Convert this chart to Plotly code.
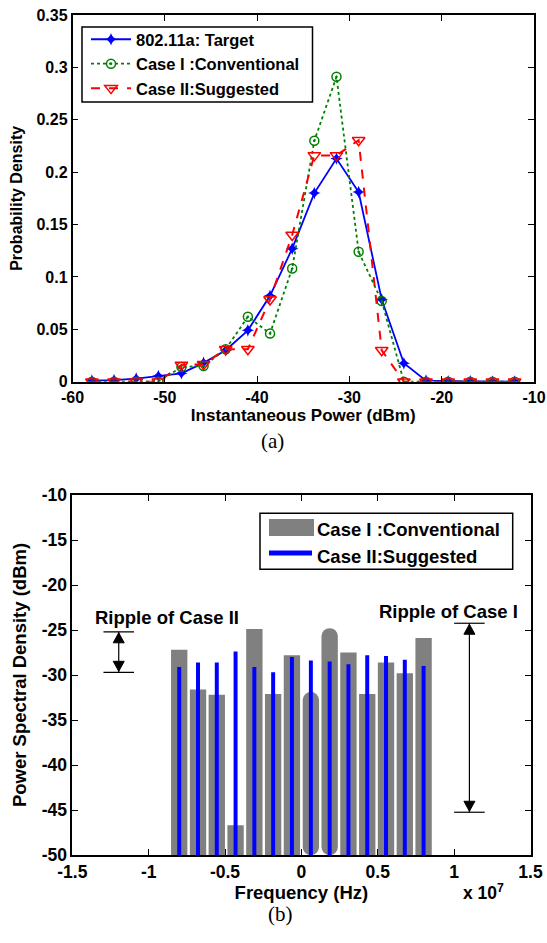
import plotly.graph_objects as go

W, H = 547, 943

# ---------------- data: panel (a) ----------------
power_dbm = [-57.9, -55.5, -53.1, -50.7, -48.2, -45.8, -43.4, -41.0, -38.6, -36.2,
             -33.8, -31.4, -29.0, -26.5, -24.1, -21.7, -19.3, -16.9, -14.5, -12.1]
pdf_target = [0.001, 0.0015, 0.003, 0.0055, 0.008, 0.018, 0.030, 0.049, 0.082, 0.127,
              0.180, 0.213, 0.181, 0.0785, 0.0176, 0.001, 0.0005, 0.0003, 0.0002, 0.0001]
pdf_case1 = [0, 0, 0, 0, 0.014, 0.015, 0.031, 0.062, 0.046, 0.108,
             0.230, 0.291, 0.124, 0.077, 0, 0, 0, 0, 0, 0]
pdf_case2 = [0, 0, 0, 0, 0.016, 0.0167, 0.031, 0.031, 0.0785, 0.140,
             0.216, 0.216, 0.2305, 0.030, 0, 0, 0, 0, 0, 0]
xa_ticks = [-60, -50, -40, -30, -20, -10]
xa_labels = ["-60", "-50", "-40", "-30", "-20", "-10"]
ya_ticks = [0, 0.05, 0.1, 0.15, 0.2, 0.25, 0.3, 0.35]
ya_labels = ["0", "0.05", "0.1", "0.15", "0.2", "0.25", "0.3", "0.35"]

# ---------------- data: panel (b) ----------------
freq_hz = [-8.0e6, -6.77e6, -5.54e6, -4.31e6, -3.08e6, -1.85e6, -0.62e6,
           0.62e6, 1.85e6, 3.08e6, 4.31e6, 5.54e6, 6.77e6, 8.0e6]
psd_case1 = [-27.2, -31.6, -32.2, -46.7, -24.9, -32.1, -27.8,
             -31.9, -24.8, -27.5, -32.1, -28.6, -29.8, -25.9]
psd_case2 = [-29.1, -28.6, -28.6, -27.4, -29.1, -29.7, -28.0,
             -28.4, -28.5, -28.8, -27.8, -27.9, -28.3, -29.0]
rounded_idx = [7, 8]          # bars drawn with a rounded top in the original
psd_floor = -50
xb_ticks = [-1.5e7, -1.0e7, -0.5e7, 0, 0.5e7, 1.0e7, 1.5e7]
xb_labels = ["-1.5", "-1", "-0.5", "0", "0.5", "1", "1.5"]
yb_ticks = [-50, -45, -40, -35, -30, -25, -20, -15, -10]
yb_labels = ["-50", "-45", "-40", "-35", "-30", "-25", "-20", "-15", "-10"]

# ripple markers: [freq, top dB, bottom dB]
ripple_case2 = [-1.196e7, -25.2, -29.7]
ripple_case1 = [1.10e7, -24.25, -45.25]

FONT = "Liberation Sans, Arial, sans-serif"
SERIF = "Liberation Serif, Times New Roman, serif"


def px(x):
    return x / W


def py(y):
    return 1 - y / H


fig = go.Figure()

# ---- panel (a) traces ----
fig.add_trace(go.Scatter(
    x=power_dbm, y=pdf_target, mode="lines+markers", name="802.11a: Target",
    line=dict(color="#0000ff", width=1.8),
    marker=dict(symbol="star-diamond", size=9, color="#0000ff"),
    xaxis="x", yaxis="y", legendgroup="a1"))
fig.add_trace(go.Scatter(
    x=power_dbm, y=pdf_case1, mode="lines+markers", name="Case I :Conventional",
    line=dict(color="#008000", width=1.8, dash="dot"),
    marker=dict(symbol="circle-open-dot", size=9, color="#008000", line=dict(width=1.5)),
    xaxis="x", yaxis="y", legendgroup="a2"))
fig.add_trace(go.Scatter(
    x=power_dbm, y=pdf_case2, mode="lines+markers", name="Case II:Suggested",
    line=dict(color="#ff0000", width=2, dash="dash"),
    marker=dict(symbol="triangle-down-open", size=11, color="#ff0000", line=dict(width=1.5)),
    xaxis="x", yaxis="y", legendgroup="a3"))

# ---- panel (b) traces ----
flat_x = [f for i, f in enumerate(freq_hz) if i not in rounded_idx]
flat_v = [v for i, v in enumerate(psd_case1) if i not in rounded_idx]
rnd_x = [freq_hz[i] for i in rounded_idx]
rnd_v = [psd_case1[i] for i in rounded_idx]
fig.add_trace(go.Bar(
    x=flat_x, y=[v - psd_floor for v in flat_v], base=psd_floor, width=1.07e6,
    marker=dict(color="#808080", line=dict(width=0)), name="Case I :Conventional",
    xaxis="x2", yaxis="y2", showlegend=False))
fig.add_trace(go.Bar(
    x=rnd_x, y=[v - psd_floor for v in rnd_v], base=psd_floor, width=1.07e6,
    marker=dict(color="#808080", line=dict(width=0), cornerradius="50%"),
    name="Case I :Conventional", xaxis="x2", yaxis="y2", showlegend=False))
fig.add_trace(go.Bar(
    x=freq_hz, y=[v - psd_floor for v in psd_case2], base=psd_floor, width=2.6e5,
    marker=dict(color="#0000ff", line=dict(width=0)), name="Case II:Suggested",
    xaxis="x2", yaxis="y2", showlegend=False))


def axis_style(size):
    return dict(showline=True, linecolor="black", linewidth=1.5, mirror="ticks",
                ticks="inside", ticklen=6, tickwidth=1.2, tickcolor="black",
                showgrid=False, zeroline=False, automargin=False,
                tickfont=dict(family=FONT, size=size, color="black", weight="bold"))


def tfont(size):
    return dict(family=FONT, size=size, color="black", weight="bold")


fig.update_layout(
    width=W, height=H, margin=dict(l=0, r=0, t=0, b=0, autoexpand=False),
    paper_bgcolor="white", plot_bgcolor="white", barmode="overlay",
    font=dict(family=FONT, color="black"),
    xaxis=dict(domain=[px(72.5), px(534)], anchor="y", range=[-60, -10],
               tickvals=xa_ticks, ticktext=xa_labels,
               title=dict(text="Instantaneous Power (dBm)", standoff=4, font=tfont(17)),
               **axis_style(16)),
    yaxis=dict(domain=[py(381.7), py(15)], anchor="x", range=[0, 0.35],
               tickvals=ya_ticks, ticktext=ya_labels,
               title=dict(text="Probability Density", standoff=10, font=tfont(16)),
               **axis_style(16)),
    xaxis2=dict(domain=[px(72.3), px(530.5)], anchor="y2", range=[-1.5e7, 1.5e7],
                tickvals=xb_ticks, ticktext=xb_labels,
                title=dict(text="Frequency (Hz)", standoff=1, font=tfont(18.5)),
                **axis_style(17.5)),
    yaxis2=dict(domain=[py(855), py(495)], anchor="x2", range=[-50, -10],
                tickvals=yb_ticks, ticktext=yb_labels,
                title=dict(text="Power Spectral Density (dBm)", standoff=10, font=tfont(18.5)),
                **axis_style(17.5)),
    legend=dict(x=px(86), y=py(22), xanchor="left", yanchor="top",
                bgcolor="rgba(0,0,0,0)", borderwidth=0,
                font=dict(family=FONT, size=16.5, color="black", weight="bold"),
                itemwidth=40, tracegroupgap=0),
)

shapes = [
    # frame of the panel (a) legend
    dict(type="rect", xref="paper", yref="paper", x0=px(82), x1=px(312.5),
         y0=py(102), y1=py(27), line=dict(color="black", width=1.5), fillcolor="white",
         layer="above"),
    # manual legend for panel (b)
    dict(type="rect", xref="paper", yref="paper", x0=px(260), x1=px(512.7),
         y0=py(569.3), y1=py(513.3), line=dict(color="black", width=1.5), fillcolor="white",
         layer="above"),
    dict(type="rect", xref="paper", yref="paper", x0=px(269), x1=px(314),
         y0=py(536), y1=py(519), line=dict(width=0), fillcolor="#808080", layer="above"),
    dict(type="line", xref="paper", yref="paper", x0=px(269), x1=px(312),
         y0=py(553), y1=py(553), line=dict(color="#0000ff", width=5), layer="above"),
]
annotations = [
    dict(xref="paper", yref="paper", x=px(315), y=py(529), xanchor="left", yanchor="middle",
         text="<b>Case I :Conventional</b>", showarrow=False,
         font=dict(family=FONT, size=18.5, color="black")),
    dict(xref="paper", yref="paper", x=px(315), y=py(556), xanchor="left", yanchor="middle",
         text="<b>Case II:Suggested</b>", showarrow=False,
         font=dict(family=FONT, size=18.5, color="black")),
]

# ---- ripple indicators (bars, shaft, triangular heads) ----
for rip, label, tx, ty in [(ripple_case2, "Ripple of Case II", -0.88e7, -23.6),
                           (ripple_case1, "Ripple of Case I", 0.965e7, -22.9)]:
    f, top, bot = rip
    half = 1.0e6
    for lvl in (top, bot):
        shapes.append(dict(type="line", xref="x2", yref="y2", x0=f - half, x1=f + half,
                           y0=lvl, y1=lvl, line=dict(color="black", width=1.2)))
    shapes.append(dict(type="line", xref="x2", yref="y2", x0=f, x1=f, y0=top, y1=bot,
                       line=dict(color="black", width=1.2)))
    shapes.append(dict(type="path", xref="x2", yref="y2", xsizemode="pixel",
                       ysizemode="pixel", xanchor=f, yanchor=top,
                       path="M0,-1 L-5.5,-11 L5.5,-11 Z", fillcolor="black",
                       line=dict(color="black", width=1)))
    shapes.append(dict(type="path", xref="x2", yref="y2", xsizemode="pixel",
                       ysizemode="pixel", xanchor=f, yanchor=bot,
                       path="M0,1 L-5.5,11 L5.5,11 Z", fillcolor="black",
                       line=dict(color="black", width=1)))
    annotations.append(dict(xref="x2", yref="y2", x=tx, y=ty, text="<b>" + label + "</b>",
                            showarrow=False, font=dict(family=FONT, size=18.5, color="black")))

# ---- x 10^7 and panel labels ----
annotations += [
    dict(xref="paper", yref="paper", x=px(506), y=py(905), text="<b>x 10<sup>7</sup></b>",
         showarrow=False, font=dict(family=FONT, size=17.5, color="black")),
    dict(xref="paper", yref="paper", x=px(272), y=py(441), text="(a)", showarrow=False,
         font=dict(family=SERIF, size=21, color="black")),
    dict(xref="paper", yref="paper", x=px(280), y=py(928), text="(b)", showarrow=False,
         font=dict(family=SERIF, size=21, color="black")),
]

fig.update_layout(shapes=shapes, annotations=annotations)
fig.write_html("out.html",
               config={"displayModeBar": False},
               post_script="document.body.style.margin='0';"
                           "document.body.style.overflow='hidden';")
